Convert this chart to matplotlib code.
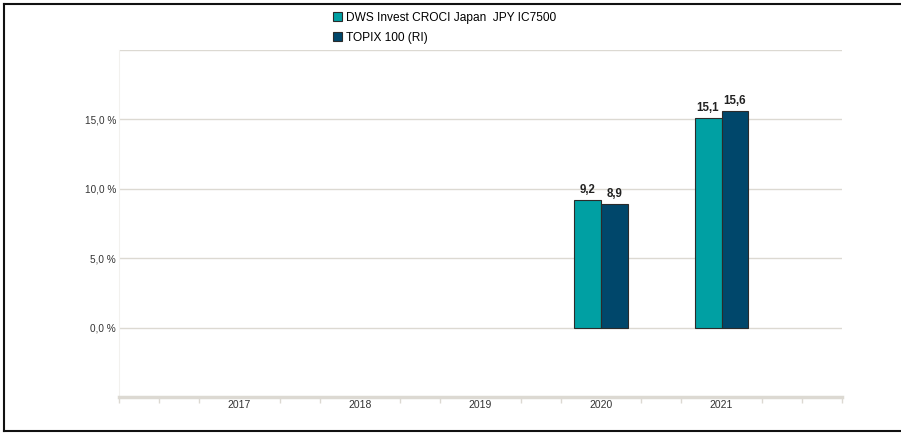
import matplotlib
matplotlib.use("Agg")
import matplotlib.pyplot as plt
from matplotlib.patches import Rectangle
from matplotlib.lines import Line2D
import numpy as np

plt.rcParams['font.family'] = ['Liberation Sans', 'DejaVu Sans']

years = ["2017", "2018", "2019", "2020", "2021"]
fund_name = "DWS Invest CROCI Japan  JPY IC7500"
bench_name = "TOPIX 100 (RI)"
fund_vals = [None, None, None, 9.2, 15.1]
bench_vals = [None, None, None, 8.9, 15.6]
y_ticks = [0, 5, 10, 15]
y_tick_labels = ["0,0 %", "5,0 %", "10,0 %", "15,0 %"]

teal = "#00a0a3"
navy = "#00476b"
grid_c = "#dcd9d2"

fig = plt.figure(figsize=(9.01, 4.33), dpi=100)
ax = fig.add_axes([119/901, 1-397/433, (842-119)/901, (397-50)/433])

x = np.arange(len(years))
w = 0.224
for i in range(len(years)):
    if fund_vals[i] is not None:
        ax.bar(x[i] - w, fund_vals[i], width=w, align='edge', color=teal,
               edgecolor="#2b2b2b", linewidth=0.8, zorder=3)
        ax.text(x[i] - w/2, fund_vals[i] + 0.3, f"{fund_vals[i]:.1f}".replace('.', ','),
                ha='center', va='bottom', fontsize=8.3, fontweight='bold', color='#222222')
    if bench_vals[i] is not None:
        ax.bar(x[i], bench_vals[i], width=w, align='edge', color=navy,
               edgecolor="#2b2b2b", linewidth=0.8, zorder=3)
        ax.text(x[i] + w/2, bench_vals[i] + 0.3, f"{bench_vals[i]:.1f}".replace('.', ','),
                ha='center', va='bottom', fontsize=8.3, fontweight='bold', color='#222222')

ax.set_xlim(-1, 5)
ax.set_ylim(-5, 20)

for yv in [0, 5, 10, 15, 20]:
    ax.axhline(yv, color=grid_c, linewidth=1.0, zorder=1)

ax.set_yticks(y_ticks)
ax.set_yticklabels(y_tick_labels, fontsize=7.2, color='#333333')
ax.tick_params(axis='y', length=0, pad=2)

ax.set_xticks(x)
ax.set_xticklabels(years, fontsize=7.5, color='#333333')
ax.tick_params(axis='x', length=0, pad=2)
minor = [m for m in np.arange(-1, 5.001, 1/3) if min(abs(m - xi) for xi in x) > 0.05]
ax.set_xticks(minor, minor=True)
ax.tick_params(axis='x', which='minor', length=4, width=1.0, color=grid_c, direction='out')

for s in ['top', 'right']:
    ax.spines[s].set_visible(False)
ax.spines['left'].set_color('#f2f1ee')
ax.spines['left'].set_linewidth(0.8)
ax.spines['bottom'].set_color(grid_c)
ax.spines['bottom'].set_linewidth(2.5)

handles = [Rectangle((0, 0), 1, 1, facecolor=teal, edgecolor='#2b2b2b', linewidth=0.8),
           Rectangle((0, 0), 1, 1, facecolor=navy, edgecolor='#2b2b2b', linewidth=0.8)]
fig.legend(handles, [fund_name, bench_name], loc='upper left',
           bbox_to_anchor=(328/901, 1-7/433), frameon=False, fontsize=8.6,
           handlelength=0.8, handleheight=0.8, handletextpad=0.3,
           labelspacing=0.65, borderaxespad=0)

# outer frame
fig.add_artist(Line2D([4/901, 4/901], [1-4/433, 1-431/433], transform=fig.transFigure,
                      color='#111111', linewidth=1.5))
fig.add_artist(Line2D([4/901, 1.0], [1-4/433, 1-4/433], transform=fig.transFigure,
                      color='#111111', linewidth=1.5))
fig.add_artist(Line2D([4/901, 1.0], [1-431/433, 1-431/433], transform=fig.transFigure,
                      color='#111111', linewidth=1.5))

fig.savefig("out.png", dpi=100)
